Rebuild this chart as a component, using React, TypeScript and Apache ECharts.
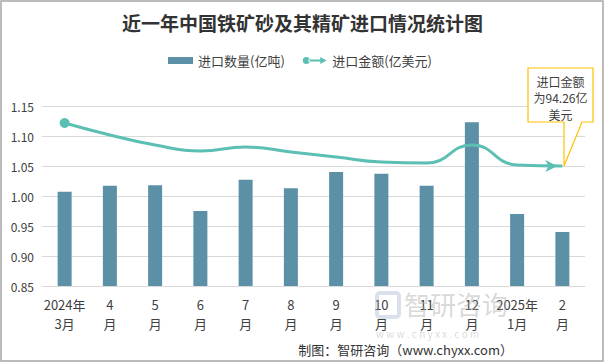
import React, { useEffect, useRef } from "react";
import * as echarts from "echarts";

const categories = ["2024年\n3月", "4\n月", "5\n月", "6\n月", "7\n月", "8\n月", "9\n月", "10\n月", "11\n月", "12\n月", "2025年\n1月", "2\n月"];
const quantity = [1.007, 1.017, 1.018, 0.975, 1.027, 1.013, 1.04, 1.037, 1.017, 1.123, 0.97, 0.94];
const amount = [117.3, 110.9, 105.5, 102.3, 104.4, 101.8, 99.1, 96.4, 95.9, 105.5, 94.8, 94.26];
const yTicks = [0.85, 1.15, 0.05];

const FONT = "'Noto Sans CJK SC', 'Noto Sans', sans-serif";
const BAR = "#5B90A6";
const LINE = "#5CBFB4";

export default function App() {
  const ref = useRef<HTMLDivElement>(null);
  useEffect(() => {
    document.body.style.margin = "0";
    const chart = echarts.init(ref.current!, undefined, { renderer: "svg" });
    const last = amount.length - 1;
    const lineData = amount.map((v, i) => {
      if (i === 0) return { value: v, symbol: "circle", symbolSize: 10 };
      if (i === last) return { value: v, symbol: "arrow", symbolSize: [9, 12], symbolRotate: -90, symbolOffset: [-5, 0] };
      return { value: v, symbol: "none" };
    });
    chart.setOption({
      animation: false,
      backgroundColor: "#fff",
      textStyle: { fontFamily: FONT },
      title: {
        text: "近一年中国铁矿砂及其精矿进口情况统计图",
        left: "center",
        top: 8,
        textStyle: { fontFamily: FONT, fontSize: 19, fontWeight: "bold", color: "#333" },
      },
      legend: {
        top: 49,
        left: 163,
        itemGap: 18,
        textStyle: { fontFamily: FONT, fontSize: 13, color: "#404040" },
        data: [
          { name: "进口数量(亿吨)", icon: "rect", itemStyle: { color: BAR } },
          {
            name: "进口金额(亿美元)",
            icon: "path://M0,5a5,5 0 1,0 10,0a5,5 0 1,0 -10,0z M8,3.5h19v3h-19z M25,0l9,5l-9,5z",
            itemStyle: { color: LINE },
          },
        ],
        itemWidth: 25,
        itemHeight: 7,
      },
      grid: { left: 42, right: 20, top: 106, bottom: 77 },
      xAxis: {
        type: "category",
        data: categories,
        axisLine: { show: true, lineStyle: { color: "#d9d9d9" } },
        axisTick: { show: false },
        axisLabel: { fontFamily: FONT, fontSize: 13, color: "#404040", lineHeight: 19, margin: 9, interval: 0 },
      },
      yAxis: [
        {
          type: "value",
          min: yTicks[0],
          max: yTicks[1],
          interval: yTicks[2],
          axisLine: { show: false },
          axisTick: { show: false },
          splitLine: { lineStyle: { color: "#d9d9d9" } },
          axisLabel: { fontFamily: FONT, fontSize: 12, color: "#404040", margin: 8, formatter: (v: number) => v.toFixed(2) },
        },
        { type: "value", min: 30, max: 126.4, show: false, splitLine: { show: false } },
      ],
      series: [
        { name: "进口数量(亿吨)", type: "bar", data: quantity, barWidth: 14, itemStyle: { color: BAR } },
        {
          name: "进口金额(亿美元)",
          type: "line",
          yAxisIndex: 1,
          smooth: 0.5,
          data: lineData,
          symbol: "circle",
          lineStyle: { color: LINE, width: 3 },
          itemStyle: { color: LINE },
          z: 5,
        },
      ],
      graphic: [
        { type: "rect", shape: { x: 1, y: 1, width: 602, height: 360 }, style: { fill: "none", stroke: "#a6a6a6", lineWidth: 1.5 }, z: 100 },
        {
          type: "polygon",
          shape: { points: [[528, 68], [593, 68], [593, 122], [582, 122], [564, 166], [564, 122], [528, 122]] },
          style: { fill: "#fff", stroke: "#FFC000", lineWidth: 1.2 },
          z: 50,
        },
        { type: "text", x: 560.5, y: 73, style: { text: "进口金额\n为94.26亿\n美元", fill: "#404040", font: `12px ${FONT}`, align: "center", lineHeight: 16.5 }, z: 51 },
        { type: "rect", shape: { x: 377, y: 293, width: 22, height: 24, r: 3 }, style: { fill: "none", stroke: "rgba(150,170,200,0.35)", lineWidth: 4 }, z: 1 },
        { type: "text", x: 404, y: 290, style: { text: "智研咨询", fill: "rgba(170,170,170,0.45)", font: `26px ${FONT}` }, z: 1 },
        { type: "text", x: 376, y: 328, style: { text: "w w w . c h y x x . c o m", fill: "rgba(170,170,170,0.45)", font: `10px ${FONT}` }, z: 1 },
        { type: "text", x: 513, y: 343, style: { text: "制图：智研咨询（www.chyxx.com）", fill: "#333", font: `13px ${FONT}`, align: "right" }, z: 2 },
      ],
    });
    return () => chart.dispose();
  }, []);
  return <div ref={ref} style={{ width: 605, height: 363 }} />;
}
